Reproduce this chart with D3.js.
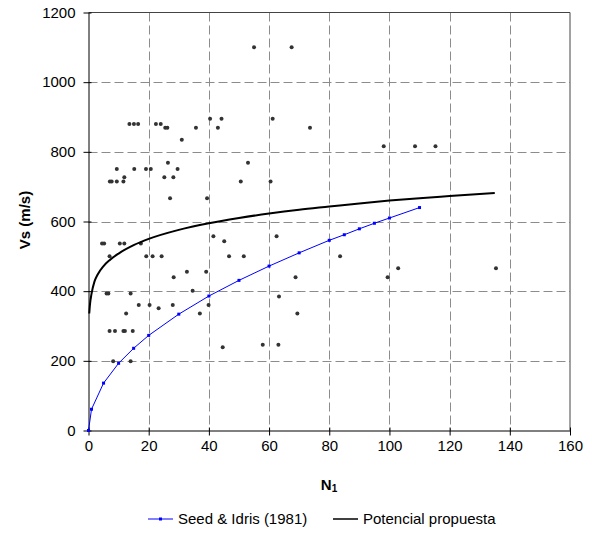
<!DOCTYPE html>
<html>
<head>
<meta charset="utf-8">
<script src="https://cdn.jsdelivr.net/npm/d3@7"></script>
<style>
  body { margin: 0; background: #fff; }
  svg { display: block; font-family: "Liberation Sans", Arial, sans-serif; }
</style>
</head>
<body>
<div class="d3-chart"></div>
<script>
// measured points (N1, Vs)
const obsN = [55, 67.5, 13.6, 15.1, 16.5, 22.4, 24, 25.5, 26.2, 31, 35.7, 40.4, 43, 44.2, 61.2, 73.6,
  9.4, 15.2, 19.1, 20.7, 26.4, 29.6, 7.1, 7.7, 9.4, 11.6, 11.9, 25.2, 28.2,
  53, 50.6, 60.5, 27.1, 39.4, 98.1, 108.5, 115.3,
  4.5, 5.2, 10.4, 11.9, 17.4, 7, 19.2, 21.3, 24.3,
  41.5, 45.1, 46.7, 51.6, 62.5, 28.3, 32.7, 39.1, 34.6,
  6, 6.6, 14, 12.5, 16.7, 20.3, 23.3, 28, 37, 39.9,
  7, 8.8, 11.6, 12.1, 14.7, 8.2, 14,
  44.6, 57.9, 63.1, 68.8, 63.3, 69.4, 83.6, 99.4, 102.9, 135.4];
const obsV = [1100, 1100, 880, 880, 880, 880, 880, 869, 869, 835, 869, 895, 869, 895, 895, 869,
  751, 751, 751, 751, 769, 751, 715, 715, 715, 715, 727, 727, 727,
  769, 715, 715, 667, 667, 816, 816, 816,
  537, 537, 537, 537, 537, 500, 500, 500, 500,
  558, 543, 500, 500, 558, 440, 456, 456, 401,
  393, 393, 393, 336, 360, 360, 351, 360, 336, 360,
  286, 286, 286, 286, 286, 199, 199,
  239, 246, 246, 440, 385, 336, 500, 440, 466, 466];

// Seed & Idris (1981)
const seedN = [0, 1, 5, 10, 15, 20, 30, 40, 50, 60, 70, 80, 85, 90, 95, 100, 110];
const seedV = [0, 61, 136, 193, 236, 273, 334, 386, 431, 472, 510, 546, 562, 579, 595, 610, 640];

// Potencial propuesta
const fitN = [0.25, 0.5, 1, 2, 3, 5, 7, 10, 15, 20, 30, 40, 50, 60, 70, 80, 90, 100, 110, 120, 135];
const fitV = [336, 363, 392, 428, 447, 472, 489, 508, 532, 550, 576, 595, 610, 623, 634, 643, 652, 660, 667, 673, 682];

const xTicks = [0, 20, 40, 60, 80, 100, 120, 140, 160];
const yTicks = [0, 200, 400, 600, 800, 1000, 1200];

const W = 592, H = 533;
const svg = d3.select(".d3-chart").append("svg")
  .attr("width", W).attr("height", H);

const x = d3.scaleLinear().domain([0, 160]).range([88.5, 570]);
const y = d3.scaleLinear().domain([0, 1200]).range([430.5, 12.5]);

// grid
svg.append("g")
  .selectAll("line")
  .data(xTicks.slice(1, -1))
  .join("line")
  .attr("x1", d => Math.round(x(d)) + 0.5).attr("x2", d => Math.round(x(d)) + 0.5)
  .attr("y1", y(1200)).attr("y2", y(0))
  .attr("stroke", "#8c8c8c").attr("stroke-dasharray", "9,4");
svg.append("g")
  .selectAll("line")
  .data(yTicks.slice(1, -1))
  .join("line")
  .attr("y1", d => Math.round(y(d)) + 0.5).attr("y2", d => Math.round(y(d)) + 0.5)
  .attr("x1", x(0)).attr("x2", x(160))
  .attr("stroke", "#8c8c8c").attr("stroke-dasharray", "9,4");

// plot border (top, right)
svg.append("path")
  .attr("d", `M${x(0)},${y(1200)}H${x(160)}V${y(0)}`)
  .attr("fill", "none").attr("stroke", "#444");

// axes
const xAxis = svg.append("g")
  .attr("transform", `translate(0,${y(0)})`)
  .call(d3.axisBottom(x).tickValues(xTicks).tickSize(5).tickSizeOuter(0).tickPadding(5));
const yAxis = svg.append("g")
  .attr("transform", `translate(${x(0)},0)`)
  .call(d3.axisLeft(y).tickValues(yTicks).tickFormat(d3.format("d"))
    .tickSize(5).tickSizeOuter(0).tickPadding(8));
xAxis.selectAll(".tick line").attr("y1", -3);
yAxis.selectAll(".tick line").attr("x1", 3);
[xAxis, yAxis].forEach(a => {
  a.select(".domain").attr("stroke", "#000");
  a.selectAll(".tick line").attr("stroke", "#000");
  a.selectAll("text").attr("font-size", 15).attr("fill", "#000")
    .attr("font-family", "'Liberation Sans', Arial, sans-serif");
});

// scatter
svg.append("g")
  .selectAll("circle")
  .data(obsN)
  .join("circle")
  .attr("cx", (d, i) => x(d))
  .attr("cy", (d, i) => y(obsV[i]))
  .attr("r", 2)
  .attr("fill", "#333");

// Seed & Idris line
const seed = seedN.map((n, i) => [n, seedV[i]]);
svg.append("path")
  .datum(seed)
  .attr("fill", "none").attr("stroke", "#0000ff").attr("stroke-width", 1)
  .attr("d", d3.line().x(d => x(d[0])).y(d => y(d[1])));
svg.append("g")
  .selectAll("rect")
  .data(seed)
  .join("rect")
  .attr("x", d => x(d[0]) - 1.5).attr("y", d => y(d[1]) - 1.5)
  .attr("width", 3).attr("height", 3)
  .attr("fill", "#0000ff");

// fitted power curve
const fit = fitN.map((n, i) => [n, fitV[i]]);
svg.append("path")
  .datum(fit)
  .attr("fill", "none").attr("stroke", "#000").attr("stroke-width", 2)
  .attr("d", d3.line().curve(d3.curveMonotoneX).x(d => x(d[0])).y(d => y(d[1])));

// axis titles
svg.append("text")
  .attr("transform", `translate(30,220) rotate(-90)`)
  .attr("text-anchor", "middle")
  .attr("font-size", 15).attr("font-weight", "bold")
  .text("Vs (m/s)");
const nt = svg.append("text")
  .attr("x", 329).attr("y", 490)
  .attr("text-anchor", "middle")
  .attr("font-size", 15).attr("font-weight", "bold");
nt.append("tspan").text("N");
nt.append("tspan").attr("font-size", 10).attr("dy", 2).text("1");

// legend: two equal columns like the spreadsheet legend
const leg = svg.append("g").attr("transform", "translate(148,519)");
leg.append("line").attr("x1", 0).attr("x2", 25).attr("stroke", "#0000ff");
leg.append("rect").attr("x", 11).attr("y", -1.5).attr("width", 3).attr("height", 3).attr("fill", "#0000ff");
leg.append("text").attr("x", 30).attr("dy", "0.35em").attr("font-size", 15)
  .text("Seed & Idris (1981)");
const c2 = 185;
leg.append("line").attr("x1", c2).attr("x2", c2 + 25).attr("stroke", "#000").attr("stroke-width", 1.5);
leg.append("text").attr("x", c2 + 30).attr("dy", "0.35em").attr("font-size", 15)
  .text("Potencial propuesta");
</script>
</body>
</html>
